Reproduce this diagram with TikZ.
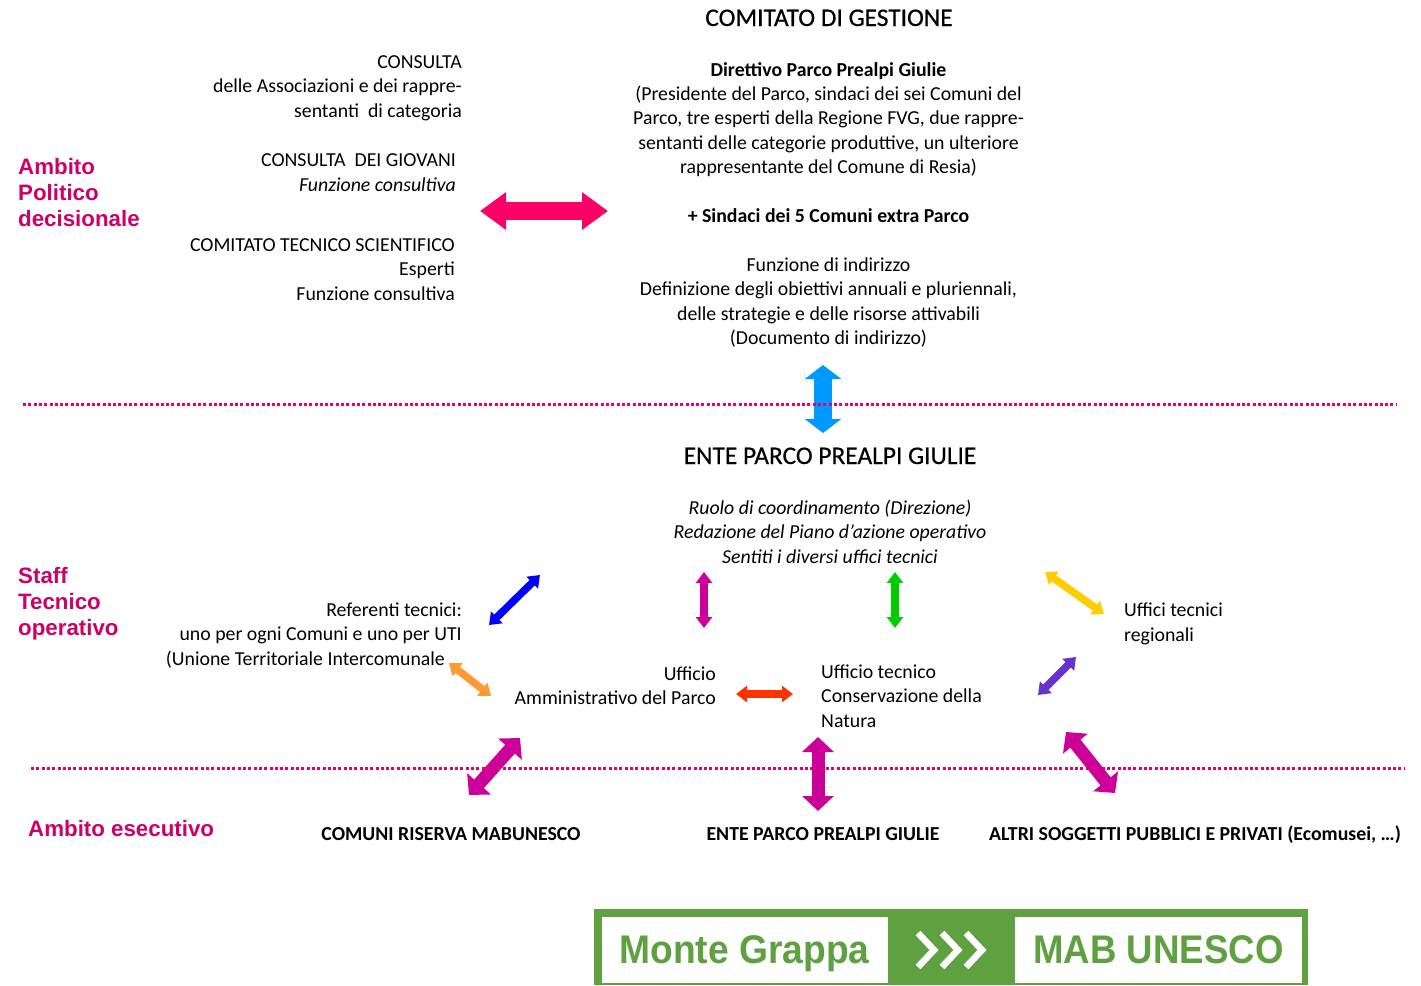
\documentclass[tikz,border=0pt]{standalone}
\usepackage{fontspec}
\usepackage{graphicx}
\setmainfont{Carlito}
\newfontfamily\headfont{Liberation Sans}
\newfontfamily\titlefont[FakeBold=0.5]{Carlito}
\usetikzlibrary{arrows.meta,positioning}
\definecolor{col1}{RGB}{255,0,102}
\definecolor{col2}{RGB}{0,153,255}
\definecolor{col3}{RGB}{0,0,255}
\definecolor{col4}{RGB}{204,0,153}
\definecolor{col5}{RGB}{0,204,0}
\definecolor{col6}{RGB}{255,204,0}
\definecolor{col7}{RGB}{102,51,204}
\definecolor{col8}{RGB}{255,153,51}
\definecolor{col9}{RGB}{255,51,0}
\definecolor{colhead}{RGB}{204,0,102}
\definecolor{coldot}{RGB}{226,0,120}
\definecolor{collogo}{RGB}{95,160,65}
\tikzstyle{testo}=[inner sep=0pt, font=\fontsize{19.8}{24.4}\selectfont]
\tikzstyle{destra}=[testo, align=right, anchor=base east]
\tikzstyle{centro}=[testo, align=center, anchor=base]
\tikzstyle{sinistra}=[testo, align=left, anchor=base west]
\tikzstyle{titolo}=[inner sep=0pt, anchor=base, font=\titlefont\fontsize{25.4}{28}\selectfont]
\tikzstyle{ambito}=[inner sep=0pt, align=left, anchor=base west, text=colhead, font=\headfont\bfseries\fontsize{22.3}{26}\selectfont]
\tikzstyle{soggetto}=[inner sep=0pt, anchor=base, font=\bfseries\fontsize{19.8}{24}\selectfont]
\tikzstyle{logobox}=[inner sep=0pt, fill=white, text=collogo, text height=29pt, text depth=3pt, font=\headfont\bfseries\fontsize{40}{42}\selectfont]
\tikzstyle{piccola}=[{Triangle[length=11pt,width=16pt]}-{Triangle[length=11pt,width=16pt]}, line width=7.5pt]
\tikzstyle{media}=[{Triangle[length=15pt,width=31pt]}-{Triangle[length=15pt,width=31pt]}, line width=13pt]
\tikzstyle{grande}=[{Triangle[length=26pt,width=36pt]}-{Triangle[length=26pt,width=36pt]}, line width=18pt]
\tikzstyle{alta}=[{Triangle[length=14pt,width=36pt]}-{Triangle[length=14pt,width=36pt]}, line width=18pt]
\tikzstyle{confine}=[coldot, line width=3pt, dash pattern=on 3pt off 2.3pt]
\begin{document}
\begin{tikzpicture}[x=1pt,y=-1pt]
	\useasboundingbox (0,0) rectangle (1421,985);
	% ambiti
	\node [ambito] (politico) at (18,226) {Ambito\\Politico\\decisionale};
	\node [ambito] (staff) at (18,635) {Staff\\Tecnico\\operativo};
	\node [ambito] (esecutivo) at (28,836) {Ambito esecutivo};
	% ambito politico
	\node [titolo] (gestione) at (829,26) {COMITATO DI GESTIONE};
	\node [centro] (direttivo) at (828.5,344.5) {\textbf{Direttivo Parco Prealpi Giulie}\\(Presidente del Parco, sindaci dei sei Comuni del\\Parco, tre esperti della Regione FVG, due rappre-\\sentanti delle categorie produttive, un ulteriore\\rappresentante del Comune di Resia)\\[24.4pt]\textbf{+ Sindaci dei 5 Comuni extra Parco}\\[24.4pt]Funzione di indirizzo\\Definizione degli obiettivi annuali e pluriennali,\\delle strategie e delle risorse attivabili\\(Documento di indirizzo)};
	\node [destra] (consulta) at (462,117) {CONSULTA\\delle Associazioni e dei rappre-\\sentanti\ \ di categoria};
	\node [destra] (giovani) at (456,191) {CONSULTA\ \ DEI GIOVANI\\\textit{Funzione consultiva}};
	\node [destra] (comitato) at (455,300) {COMITATO TECNICO SCIENTIFICO\\Esperti\\Funzione consultiva};
	% staff
	\node [titolo] (ente) at (830,464) {ENTE PARCO PREALPI GIULIE};
	\node [centro] (ruolo) at (830,563) {\textit{Ruolo di coordinamento (Direzione)}\\\textit{Redazione del Piano d’azione operativo}\\\textit{Sentiti i diversi uffici tecnici}};
	\node [destra] (referenti) at (462,665) {Referenti tecnici:\\uno per ogni Comuni e uno per UTI\\(Unione Territoriale Intercomunale\hspace*{17pt}};
	\node [destra] (amministrativo) at (716,704.5) {Ufficio\\Amministrativo del Parco};
	\node [sinistra] (conservazione) at (821,727) {Ufficio tecnico\\Conservazione della\\Natura};
	\node [sinistra] (regionali) at (1124,641) {Uffici tecnici\\regionali};
	% ambito esecutivo
	\node [soggetto] (comuni) at (451,840) {COMUNI RISERVA MABUNESCO};
	\node [soggetto] (parco) at (823,840) {ENTE PARCO PREALPI GIULIE};
	\node [soggetto] (altri) at (1195,840) {ALTRI SOGGETTI PUBBLICI E PRIVATI (Ecomusei, \dots)};
	% logo
	\fill[collogo] (594,909) rectangle (1308,985);
	\node [logobox, minimum width=286pt, minimum height=66pt] (monte) at (744.5,950) {\scalebox{0.93}[1]{Monte Grappa}};
	\node [logobox, minimum width=287pt, minimum height=66pt] (mab) at (1158.5,950) {\scalebox{0.915}[1]{MAB UNESCO}};
	\foreach \x in {0,24,48}
		\draw[white, line width=6.5pt] (918+\x,933) -- (934+\x,950) -- (918+\x,967);
	% frecce
	\coordinate (f1a) at (480,211);
	\coordinate (f1b) at (608,211);
	\coordinate (f2a) at (823,365);
	\coordinate (f2b) at (823,433);
	\coordinate (f3a) at (489,625);
	\coordinate (f3b) at (540,575);
	\coordinate (f4a) at (704,572);
	\coordinate (f4b) at (704,628);
	\coordinate (f5a) at (895,572);
	\coordinate (f5b) at (895,628);
	\coordinate (f6a) at (1045,572);
	\coordinate (f6b) at (1104,614);
	\coordinate (f7a) at (1038,695);
	\coordinate (f7b) at (1076,657);
	\coordinate (f8a) at (449,663);
	\coordinate (f8b) at (491,696);
	\coordinate (f9a) at (736,694);
	\coordinate (f9b) at (793,694);
	\coordinate (f10a) at (469,795);
	\coordinate (f10b) at (520,738);
	\coordinate (f11a) at (818,737);
	\coordinate (f11b) at (818,811);
	\coordinate (f12a) at (1066,732);
	\coordinate (f12b) at (1115,793);
	\draw[grande, col1] (f1a) -- (f1b);
	\draw[alta, col2] (f2a) -- (f2b);
	\draw[piccola, col3] (f3a) -- (f3b);
	\draw[piccola, col4] (f4a) -- (f4b);
	\draw[piccola, col5] (f5a) -- (f5b);
	\draw[piccola, col6] (f6a) -- (f6b);
	\draw[piccola, col7] (f7a) -- (f7b);
	\draw[piccola, col8] (f8a) -- (f8b);
	\draw[piccola, col9] (f9a) -- (f9b);
	\draw[media, col4] (f10a) -- (f10b);
	\draw[media, col4] (f11a) -- (f11b);
	\draw[media, col4] (f12a) -- (f12b);
	% confini
	\coordinate (c1a) at (23,404);
	\coordinate (c1b) at (1396,404);
	\coordinate (c2a) at (31,768);
	\coordinate (c2b) at (1404,768);
	\draw[confine] (c1a) -- (c1b);
	\draw[confine] (c2a) -- (c2b);
\end{tikzpicture}
\end{document}
